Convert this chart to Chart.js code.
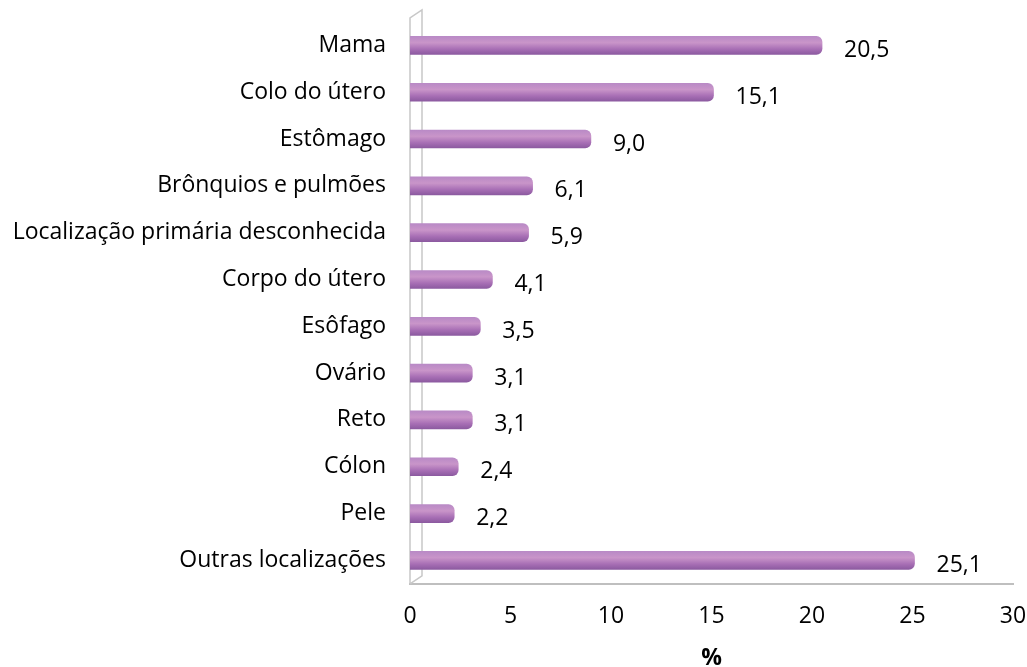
<!DOCTYPE html>
<html>
<head>
<meta charset="utf-8">
<script src="https://cdn.jsdelivr.net/npm/chart.js@4"></script>
<style>
  html, body { margin: 0; padding: 0; background: #fff; }
  #wrap { width: 1027px; height: 667px; }
</style>
</head>
<body>
<div id="wrap"><canvas id="chart"></canvas></div>
<script>
// dados do gráfico
const categories = [
  'Mama', 'Colo do útero', 'Estômago', 'Brônquios e pulmões',
  'Localização primária desconhecida', 'Corpo do útero', 'Esôfago',
  'Ovário', 'Reto', 'Cólon', 'Pele', 'Outras localizações'
];
const values = [20.5, 15.1, 9.0, 6.1, 5.9, 4.1, 3.5, 3.1, 3.1, 2.4, 2.2, 25.1];
const xTicks = [0, 5, 10, 15, 20, 25, 30];
const axisTitle = '%';

const FONT = "'Open Sans', sans-serif";
const FSIZE = 23;

// gradiente vertical para dar efeito de cilindro
function barGradient(context) {
  const chart = context.chart;
  const yScale = chart.scales.y;
  if (!yScale || context.dataIndex === undefined) return '#b77fc0';
  const y = yScale.getPixelForValue(context.dataIndex);
  if (!isFinite(y)) return '#b77fc0';
  const g = chart.ctx.createLinearGradient(0, y - 9, 0, y + 9);
  g.addColorStop(0, '#b98ac6');
  g.addColorStop(0.35, '#c995c9');
  g.addColorStop(0.7, '#a86fb5');
  g.addColorStop(1, '#8c5aa0');
  return g;
}

// rótulos de valor à direita de cada barra
const valueLabels = {
  id: 'valueLabels',
  afterDatasetsDraw(chart) {
    const ctx = chart.ctx;
    const meta = chart.getDatasetMeta(0);
    ctx.save();
    ctx.font = FSIZE + 'px ' + FONT;
    ctx.fillStyle = '#000';
    ctx.textBaseline = 'middle';
    meta.data.forEach((bar, i) => {
      const txt = values[i].toFixed(1).replace('.', ',');
      ctx.fillText(txt, bar.x + 22, bar.y + 5);
    });
    ctx.restore();
  }
};

// parede lateral (efeito 3D)
const wall = {
  id: 'wall',
  beforeDatasetsDraw(chart) {
    const ctx = chart.ctx;
    const a = chart.chartArea;
    ctx.save();
    ctx.strokeStyle = '#c8c8c8';
    ctx.lineWidth = 1.5;
    ctx.beginPath();
    ctx.moveTo(a.left, a.bottom);
    ctx.lineTo(a.left, a.top - 4);
    ctx.lineTo(a.left + 12, a.top - 12);
    ctx.lineTo(a.left + 12, a.bottom - 8);
    ctx.lineTo(a.left, a.bottom);
    ctx.stroke();
    ctx.restore();
  }
};

new Chart(document.getElementById('chart'), {
  type: 'bar',
  data: {
    labels: categories,
    datasets: [{
      data: values,
      backgroundColor: barGradient,
      borderWidth: 0,
      borderRadius: { topRight: 6, bottomRight: 6 },
      borderSkipped: 'left',
      barThickness: 18
    }]
  },
  options: {
    indexAxis: 'y',
    responsive: true,
    maintainAspectRatio: false,
    animation: false,
    layout: { padding: { top: 22, right: 0, left: 0, bottom: -5 } },
    plugins: {
      legend: { display: false },
      tooltip: { enabled: false }
    },
    scales: {
      x: {
        min: 0,
        max: 30,
        afterBuildTicks: scale => { scale.ticks = xTicks.map(v => ({ value: v })); },
        afterFit: scale => { scale.paddingRight = 14; scale.paddingLeft = 0; },
        grid: { display: false, drawTicks: true, tickLength: 6, color: '#bfbfbf' },
        border: { display: true, color: '#bfbfbf', width: 2 },
        ticks: { color: '#000', font: { family: FONT, size: FSIZE }, padding: 13 },
        title: { display: true, text: axisTitle, color: '#000', font: { family: FONT, size: FSIZE, weight: 'bold' }, padding: { top: 1, bottom: 0 } }
      },
      y: {
        afterFit: scale => { scale.width = 410; scale.paddingTop = 0; scale.paddingBottom = 0; },
        grid: { display: false, drawTicks: false },
        border: { display: false },
        ticks: { color: '#000', font: { family: FONT, size: FSIZE }, padding: 24 }
      }
    }
  },
  plugins: [wall, valueLabels]
});
</script>
</body>
</html>
